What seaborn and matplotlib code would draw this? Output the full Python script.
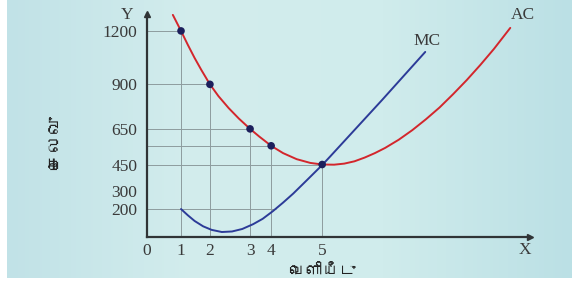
import numpy as np
import matplotlib
matplotlib.use('Agg')
import matplotlib.pyplot as plt
from matplotlib import font_manager, ft2font
import seaborn as sns

# axis ticks (positions on the x axis are not evenly spaced in the drawing)
quantity_labels = ['0', '1', '2', '3', '4', '5']
quantity_pos = [0, 1.0, 1.85, 3.03, 3.65, 5.15]
cost_ticks = [200, 300, 450, 650, 900, 1200]

# AC values at quantities 1..5 (marked points)
ac_points = [1200, 900, 650, 555, 450]

# AC curve
ac_x = [0.76, 1.0, 1.2, 1.4, 1.6, 1.85, 2.1, 2.4, 2.7, 3.03, 3.3, 3.65, 4.0, 4.4, 4.8,
        5.15, 5.5, 5.8, 6.1, 6.4, 6.7, 7.0, 7.4, 7.8, 8.2, 8.6, 9.0, 9.4, 9.8, 10.2, 10.68]
ac_y = [1290, 1200, 1122, 1048, 980, 900, 834, 767, 708, 650, 607, 555, 514, 480, 459,
        450, 449, 455, 468, 489, 514, 543, 589, 643, 704, 770, 845, 924, 1009, 1099, 1217]

# MC curve
mc_x = [1.0, 1.2, 1.4, 1.65, 1.9, 2.2, 2.5, 2.8, 3.12, 3.4, 3.7, 4.0, 4.3, 4.7,
        5.15, 5.38, 6.91, 8.18]
mc_y = [200, 165, 133, 103, 83, 71, 74, 88, 115, 145, 188, 236, 287, 362,
        447, 494, 812, 1082]

x_label = 'வெளியீடு'
y_label = 'செலவு'


def find_font(ch):
    for f in font_manager.fontManager.ttflist:
        try:
            if ft2font.FT2Font(f.fname).get_char_index(ord(ch)):
                return f.name
        except Exception:
            pass
    return 'DejaVu Sans'


sns.set_style('white')
plt.rcParams['font.family'] = ['Liberation Serif', 'DejaVu Serif']
tamil_font = find_font('ச')

fig = plt.figure(figsize=(5.72, 2.82), dpi=100)
fig.patch.set_facecolor('white')

# light cyan background panel
bg = fig.add_axes([7 / 572, 4 / 282, 565 / 572, 278 / 282])
grad = np.linspace(0, 1, 256)
cols = matplotlib.colors.LinearSegmentedColormap.from_list(
    'bg', ['#c1e2e7', '#d3eded', '#d0ecec', '#bbe0e5'])
bg.imshow(grad[None, :], aspect='auto', cmap=cols, extent=[0, 1, 0, 1])
bg.axis('off')

ax = fig.add_axes([147 / 572, 45 / 282, 383 / 572, 223 / 282])
ax.set_facecolor('none')
ax.set_xlim(0, 11.26)
ax.set_ylim(43, 1295)

for s in ['top', 'right']:
    ax.spines[s].set_visible(False)
for s in ['left', 'bottom']:
    ax.spines[s].set_color('#303436')
    ax.spines[s].set_linewidth(1.6)
ax.plot(1, 0, '>', color='#303436', ms=5, transform=ax.transAxes, clip_on=False)
ax.plot(0, 1, '^', color='#303436', ms=5, transform=ax.transAxes, clip_on=False)

# guide lines from the points to the axes
gcol = '#8d9c9e'
ax.vlines(quantity_pos[1:], 43, ac_points, color=gcol, lw=0.7, zorder=1)
ax.hlines(ac_points, 0, quantity_pos[1:], color=gcol, lw=0.7, zorder=1)
ax.hlines(200, 0, 3.8, color=gcol, lw=0.7, zorder=1)

sns.lineplot(x=ac_x, y=ac_y, sort=False, color='#d3262c', lw=1.4, ax=ax, zorder=3)
sns.lineplot(x=mc_x, y=mc_y, sort=False, color='#2c3b98', lw=1.4, ax=ax, zorder=3)
sns.scatterplot(x=quantity_pos[1:], y=ac_points, color='#1c1f5c', s=30,
                edgecolor='none', ax=ax, zorder=5)

ax.set_xticks(quantity_pos)
ax.set_xticklabels(quantity_labels)
ax.set_yticks(cost_ticks)
ax.set_yticklabels([str(v) for v in cost_ticks])
ax.tick_params(axis='both', length=0, labelsize=12.5, labelcolor='#3a3a3a')
ax.tick_params(axis='y', pad=7)
ax.tick_params(axis='x', pad=4)

tc = '#3a3a3a'
ax.text(-0.59, 1290, 'Y', fontsize=12.5, color=tc, ha='center', va='center', clip_on=False)
ax.text(11.12, -30, 'X', fontsize=12.5, color=tc, ha='center', va='center', clip_on=False)
ax.text(8.24, 1144, 'MC', fontsize=12.5, color=tc, ha='center', va='center')
ax.text(11.06, 1290, 'AC', fontsize=12.5, color=tc, ha='center', va='center', clip_on=False)

fig.text(322 / 572, 1 - 272 / 282, x_label, family=[tamil_font, 'DejaVu Sans'],
         fontsize=12, fontweight='bold', color='#222222', ha='center', va='center')
fig.text(57 / 572, 1 - 143 / 282, y_label, family=[tamil_font, 'DejaVu Sans'],
         fontsize=13, fontweight='bold', color='#222222', ha='center', va='center',
         rotation=90)

fig.savefig('out.png', dpi=100)
